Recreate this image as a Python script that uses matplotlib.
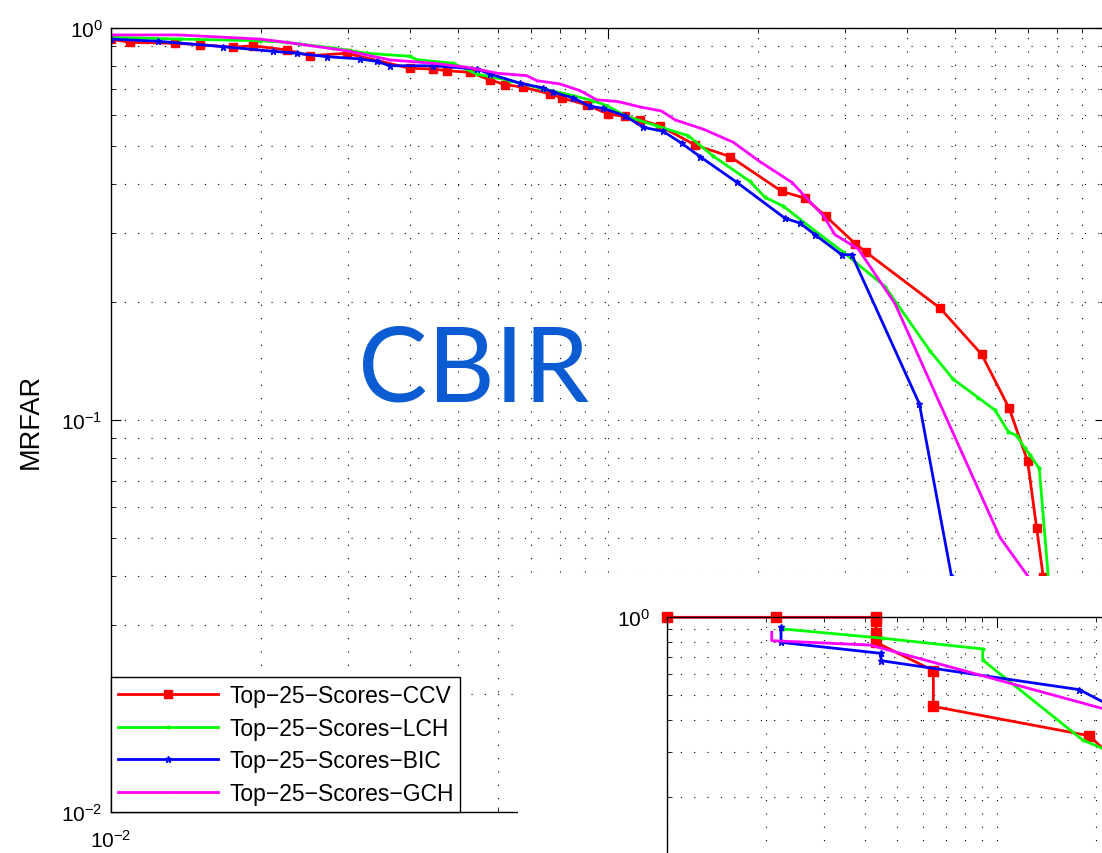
import matplotlib
matplotlib.use("Agg")
import math
import matplotlib.pyplot as plt
from matplotlib.patches import Rectangle
from matplotlib.ticker import LogLocator, NullFormatter, FuncFormatter

plt.rcParams["font.family"] = ["Liberation Sans", "DejaVu Sans"]
plt.rcParams["mathtext.default"] = "regular"

# main plot: false alarm rate (x) vs MRFAR (y)
ccv_x = [0.0100, 0.01092, 0.01345, 0.0151, 0.01762, 0.01931, 0.02257, 0.02514, 0.0298,
         0.03996, 0.04452, 0.04737, 0.05277, 0.0579, 0.06208, 0.06756, 0.07644, 0.0807,
         0.0906, 0.1001, 0.1082, 0.116, 0.1272, 0.1496, 0.176, 0.2237, 0.2491, 0.2742,
         0.3141, 0.3305, 0.4656, 0.5648, 0.6417, 0.6988, 0.7286, 0.7514]
ccv_y = [0.937, 0.919, 0.914, 0.907, 0.893, 0.901, 0.879, 0.850, 0.862,
         0.789, 0.786, 0.778, 0.771, 0.737, 0.717, 0.706, 0.679, 0.663,
         0.637, 0.603, 0.595, 0.583, 0.563, 0.503, 0.470, 0.383, 0.368, 0.331,
         0.282, 0.268, 0.193, 0.147, 0.107, 0.0785, 0.053, 0.0397]

lch_x = [0.0100, 0.01377, 0.01994, 0.02257, 0.02401, 0.02801, 0.0298, 0.03269, 0.03996,
         0.04122, 0.04884, 0.05443, 0.06352, 0.07411, 0.08517, 0.09342, 0.0994, 0.109,
         0.1253, 0.1451, 0.1629, 0.1931, 0.207, 0.2254, 0.2589, 0.2975, 0.3609, 0.4446,
         0.4952, 0.5559, 0.6006, 0.6387, 0.6641, 0.6902, 0.7063, 0.7375, 0.7691]
lch_y = [0.947, 0.937, 0.928, 0.919, 0.910, 0.889, 0.879, 0.862, 0.847,
         0.830, 0.813, 0.763, 0.734, 0.699, 0.672, 0.652, 0.634, 0.595,
         0.563, 0.531, 0.471, 0.406, 0.370, 0.351, 0.306, 0.268, 0.219, 0.150,
         0.127, 0.114, 0.106, 0.0934, 0.0912, 0.0847, 0.0814, 0.0753, 0.0397]

bic_x = [0.0100, 0.01245, 0.01682, 0.02121, 0.02364, 0.02716, 0.0317, 0.03424, 0.03642,
         0.04452, 0.05443, 0.0579, 0.06653, 0.07411, 0.07762, 0.08517, 0.092, 0.09783,
         0.1082, 0.1178, 0.1292, 0.1407, 0.1531, 0.1816, 0.2271, 0.2434, 0.2609, 0.2953,
         0.3093, 0.4231, 0.4915]
bic_y = [0.937, 0.925, 0.896, 0.872, 0.862, 0.845, 0.834, 0.822, 0.801,
         0.801, 0.786, 0.763, 0.723, 0.703, 0.686, 0.663, 0.631, 0.624,
         0.597, 0.558, 0.545, 0.508, 0.470, 0.404, 0.327, 0.318, 0.297, 0.264,
         0.264, 0.110, 0.0397]

gch_x = [0.0100, 0.01366, 0.01994, 0.02257, 0.0298, 0.03642, 0.04452, 0.05196, 0.06018,
         0.06863, 0.07188, 0.08007, 0.08785, 0.0949, 0.1049, 0.116, 0.1282, 0.1364,
         0.1555, 0.1787, 0.2022, 0.2343, 0.2511, 0.2712, 0.2862, 0.3189, 0.378, 0.6146,
         0.7063]
gch_y = [0.960, 0.960, 0.937, 0.919, 0.875, 0.829, 0.813, 0.794, 0.766,
         0.756, 0.734, 0.720, 0.692, 0.656, 0.649, 0.629, 0.614, 0.583,
         0.552, 0.511, 0.456, 0.404, 0.368, 0.332, 0.297, 0.273, 0.198, 0.0502,
         0.0393]

# pasted second plot (bottom right), only its top-left corner is visible
in_ccv_x = [0.01, 0.02144, 0.04307, 0.04307, 0.04307, 0.04307, 0.06427, 0.06427, 0.1908, 0.2535]
in_ccv_y = [1.0, 1.0, 1.0, 0.970, 0.869, 0.799, 0.620, 0.450, 0.346, 0.2457]
in_lch_x = [0.02246, 0.04512, 0.0907, 0.0907, 0.1822, 0.2535]
in_lch_y = [0.901, 0.829, 0.753, 0.682, 0.333, 0.278]
in_bic_x = [0.0222, 0.0222, 0.04459, 0.04459, 0.178, 0.2535]
in_bic_y = [0.914, 0.799, 0.724, 0.678, 0.523, 0.413]
in_gch_x = [0.02081, 0.02081, 0.0413, 0.2535]
in_gch_y = [0.874, 0.811, 0.780, 0.413]

labels = ["Top\u221225\u2212Scores\u2212CCV", "Top\u221225\u2212Scores\u2212LCH",
          "Top\u221225\u2212Scores\u2212BIC", "Top\u221225\u2212Scores\u2212GCH"]

W, H = 1102, 854


def box(x0, y0, x1, y1):
    # pixel box (top-left origin) -> figure fraction rect
    return [x0 / W, 1 - y1 / H, (x1 - x0) / W, (y1 - y0) / H]


def only(keep):
    # label only the decades that are visible in the picture
    def fmt(v, pos):
        for k in keep:
            if abs(v / k - 1) < 1e-6:
                return "$10^{%d}$" % int(round(math.log10(v)))
        return ""
    return FuncFormatter(fmt)


def style(a):
    a.set_xscale("log")
    a.set_yscale("log")
    for axis in (a.xaxis, a.yaxis):
        axis.set_major_locator(LogLocator(base=10))
        axis.set_minor_locator(LogLocator(base=10, subs=range(2, 10)))
        axis.set_minor_formatter(NullFormatter())
    a.tick_params(which="both", direction="in", top=True, right=True, labelsize=15)
    a.tick_params(which="major", length=7, width=0.8)
    a.tick_params(which="minor", length=3.5, width=0.6)
    a.grid(True, which="both", color="black", linestyle=(0, (1, 11)), linewidth=0.8)
    a.set_axisbelow(True)
    for s in a.spines.values():
        s.set_linewidth(1.0)


fig = plt.figure(figsize=(11.02, 8.54), dpi=100)

ax = fig.add_axes(box(111, 29, 1105, 813))
style(ax)
ax.tick_params(axis="x", pad=12)
ax.tick_params(axis="y", pad=6)
ax.xaxis.set_major_formatter(only([0.01]))
ax.yaxis.set_major_formatter(only([0.01, 0.1, 1]))
lw = 2.0
ax.plot(ccv_x, ccv_y, color="#ff0000", lw=lw, marker="s", ms=5.5, label=labels[0])
ax.plot(lch_x, lch_y, color="#00ff00", lw=lw, marker=".", ms=4, label=labels[1])
ax.plot(bic_x, bic_y, color="#0000ff", lw=lw, marker="*", ms=5, label=labels[2])
ax.plot(gch_x, gch_y, color="#ff00ff", lw=lw, marker=".", ms=1, label=labels[3])
ax.set_xlim(0.01, 1)
ax.set_ylim(0.01, 1)
ax.set_ylabel("MRFAR", fontsize=19.5)
ax.yaxis.set_label_coords(-0.068, 0.5)

leg = ax.legend(loc="lower left", bbox_to_anchor=(0, 0), borderaxespad=0,
                fontsize=16.5, handlelength=4.35, handletextpad=0.5, numpoints=1,
                labelspacing=0.42, borderpad=0.3, fancybox=False, framealpha=1,
                edgecolor="black")
leg.get_frame().set_linewidth(1.0)

# white patch of the pasted plot
fig.add_artist(Rectangle((518 / W, 0), 1, (H - 577) / H, transform=fig.transFigure,
                         facecolor="white", edgecolor="none", zorder=1))

ax2 = fig.add_axes(box(666.7, 618.3, 666.7 + 660, 618.3 + 257))
ax2.set_zorder(2)
style(ax2)
ax2.tick_params(axis="y", pad=12)
ax2.tick_params(axis="x", labelbottom=False)
ax2.yaxis.set_major_formatter(only([1]))
ax2.set_xlim(0.01, 1)
ax2.set_ylim(0.1, 1)
ax2.plot(in_ccv_x, in_ccv_y, color="#ff0000", lw=lw, marker="s", ms=6.5, clip_on=False)
ax2.plot(in_lch_x, in_lch_y, color="#00ff00", lw=lw, marker=".", ms=4, clip_on=False)
ax2.plot(in_bic_x, in_bic_y, color="#0000ff", lw=lw, marker="*", ms=5, clip_on=False)
ax2.plot(in_gch_x, in_gch_y, color="#ff00ff", lw=lw, clip_on=False)

fig.text(473.5 / W, 1 - 402 / H, "CBIR", fontsize=75, family="Lato",
         color="#0b5bd3", ha="center", va="baseline", zorder=3)

fig.savefig("out.png", dpi=100)
